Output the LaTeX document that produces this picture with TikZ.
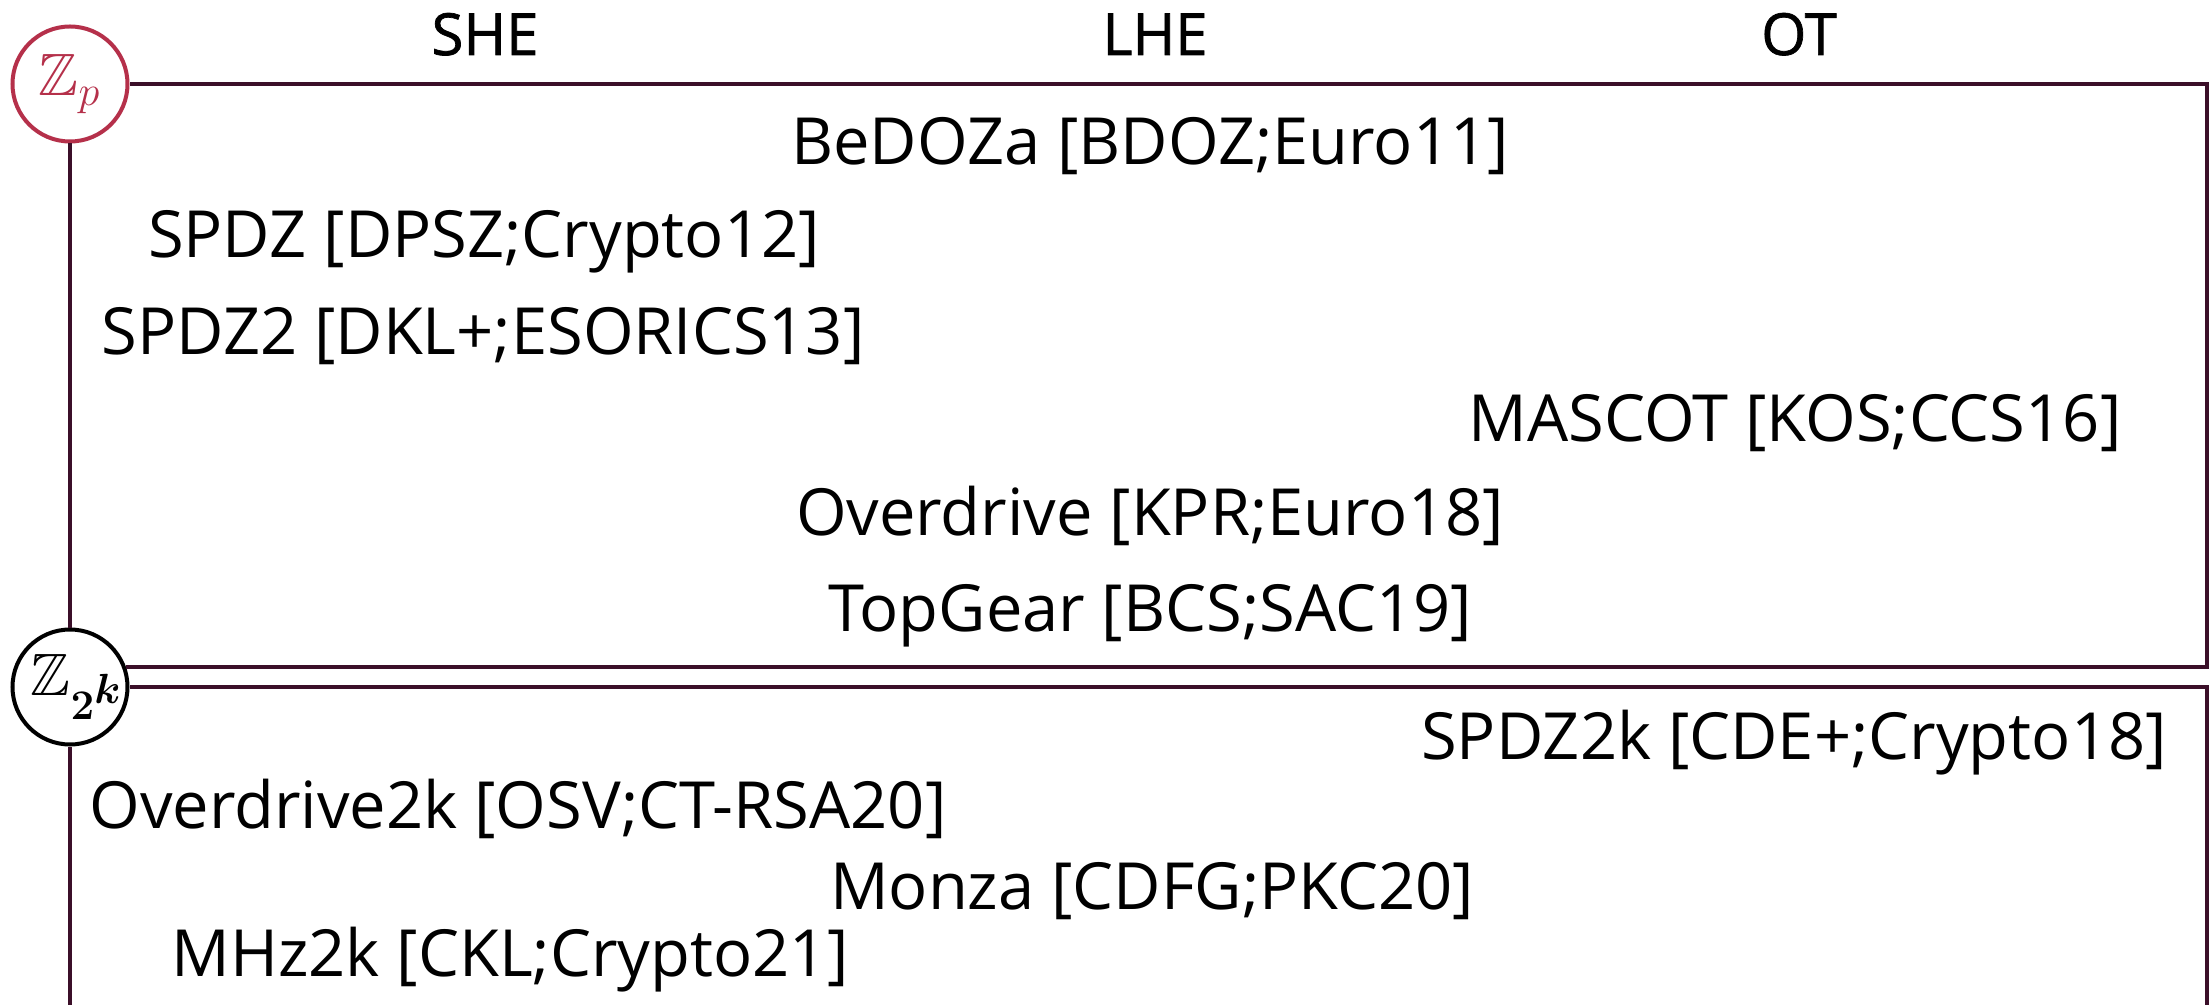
\documentclass[tikz,border=0pt]{standalone}
\usepackage{amsmath,amssymb,bm}
\usepackage{fontspec}
\setmainfont{Open Sans}
\newfontfamily\headfont[FakeBold=1.2]{Open Sans}
\definecolor{linea}{HTML}{3B0F29}
\definecolor{anillo}{HTML}{B5304A}

\begin{document}
\begin{tikzpicture}
\useasboundingbox (0,0) rectangle (22.09,-10.05);

% Anillos
\begin{scope}[
		every node/.style = {shape = circle, fill = white,
		line width = .04cm, minimum size = 1.15cm, inner sep = 0pt,
		font = \fontsize{17}{19}\selectfont}]
	\node[draw = anillo, text = anillo] (Zp) at (0.70,-0.84) {$\mathbb{Z}_p$};
	\node[draw = black] (Z2k) at (0.70,-6.87)
		{\makebox[0pt]{\hspace{1.5mm}$\mathbb{Z}_{\bm{2}^{\scriptstyle\bm{k}}}$}};
\end{scope}

% Cajas
\coordinate (R) at (22.07,0);
\coordinate (B) at (0,-10.05);
\begin{scope}[every path/.style = {draw = linea, line width = .04cm}]
	\draw (Z2k.20) -- (Z2k.20 -| R) -- (R |- Zp.east) -- (Zp.east);
	\draw (Z2k.east) -- (Z2k.east -| R) -- (R |- B);
	\draw (Zp) -- (Z2k);
	\draw (Z2k) -- (Z2k |- B);
\end{scope}

% Columnas
\begin{scope}[
		every node/.style = {anchor = base,
		font = \headfont\fontsize{16.5}{18}\selectfont}]
	\node (SHE) at (4.85,-0.55) {SHE};
	\node (LHE) at (11.55,-0.55) {LHE};
	\node (OT) at (17.99,-0.55) {OT};
\end{scope}

% Protocolos
\begin{scope}[
		every node/.style = {anchor = base,
		font = \fontsize{18.5}{20}\selectfont}]
	\node (BeDOZa) at (11.50,-1.65) {BeDOZa [BDOZ;Euro11]};
	\node (SPDZ) at (4.84,-2.58) {SPDZ [DPSZ;Crypto12]};
	\node (SPDZ2) at (4.83,-3.55) {SPDZ2 [DKL+;ESORICS13]};
	\node (MASCOT) at (17.95,-4.41) {MASCOT [KOS;CCS16]};
	\node (Overdrive) at (11.50,-5.35) {Overdrive [KPR;Euro18]};
	\node (TopGear) at (11.50,-6.31) {TopGear [BCS;SAC19]};
	\node (SPDZ2k) at (17.94,-7.59) {SPDZ2k [CDE+;Crypto18]};
	\node (Overdrive2k) at (5.18,-8.28) {Overdrive2k [OSV;CT-RSA20]};
	\node (Monza) at (11.52,-9.09) {Monza [CDFG;PKC20]};
	\node (MHz2k) at (5.10,-9.76) {MHz2k [CKL;Crypto21]};
\end{scope}
\end{tikzpicture}
\end{document}
